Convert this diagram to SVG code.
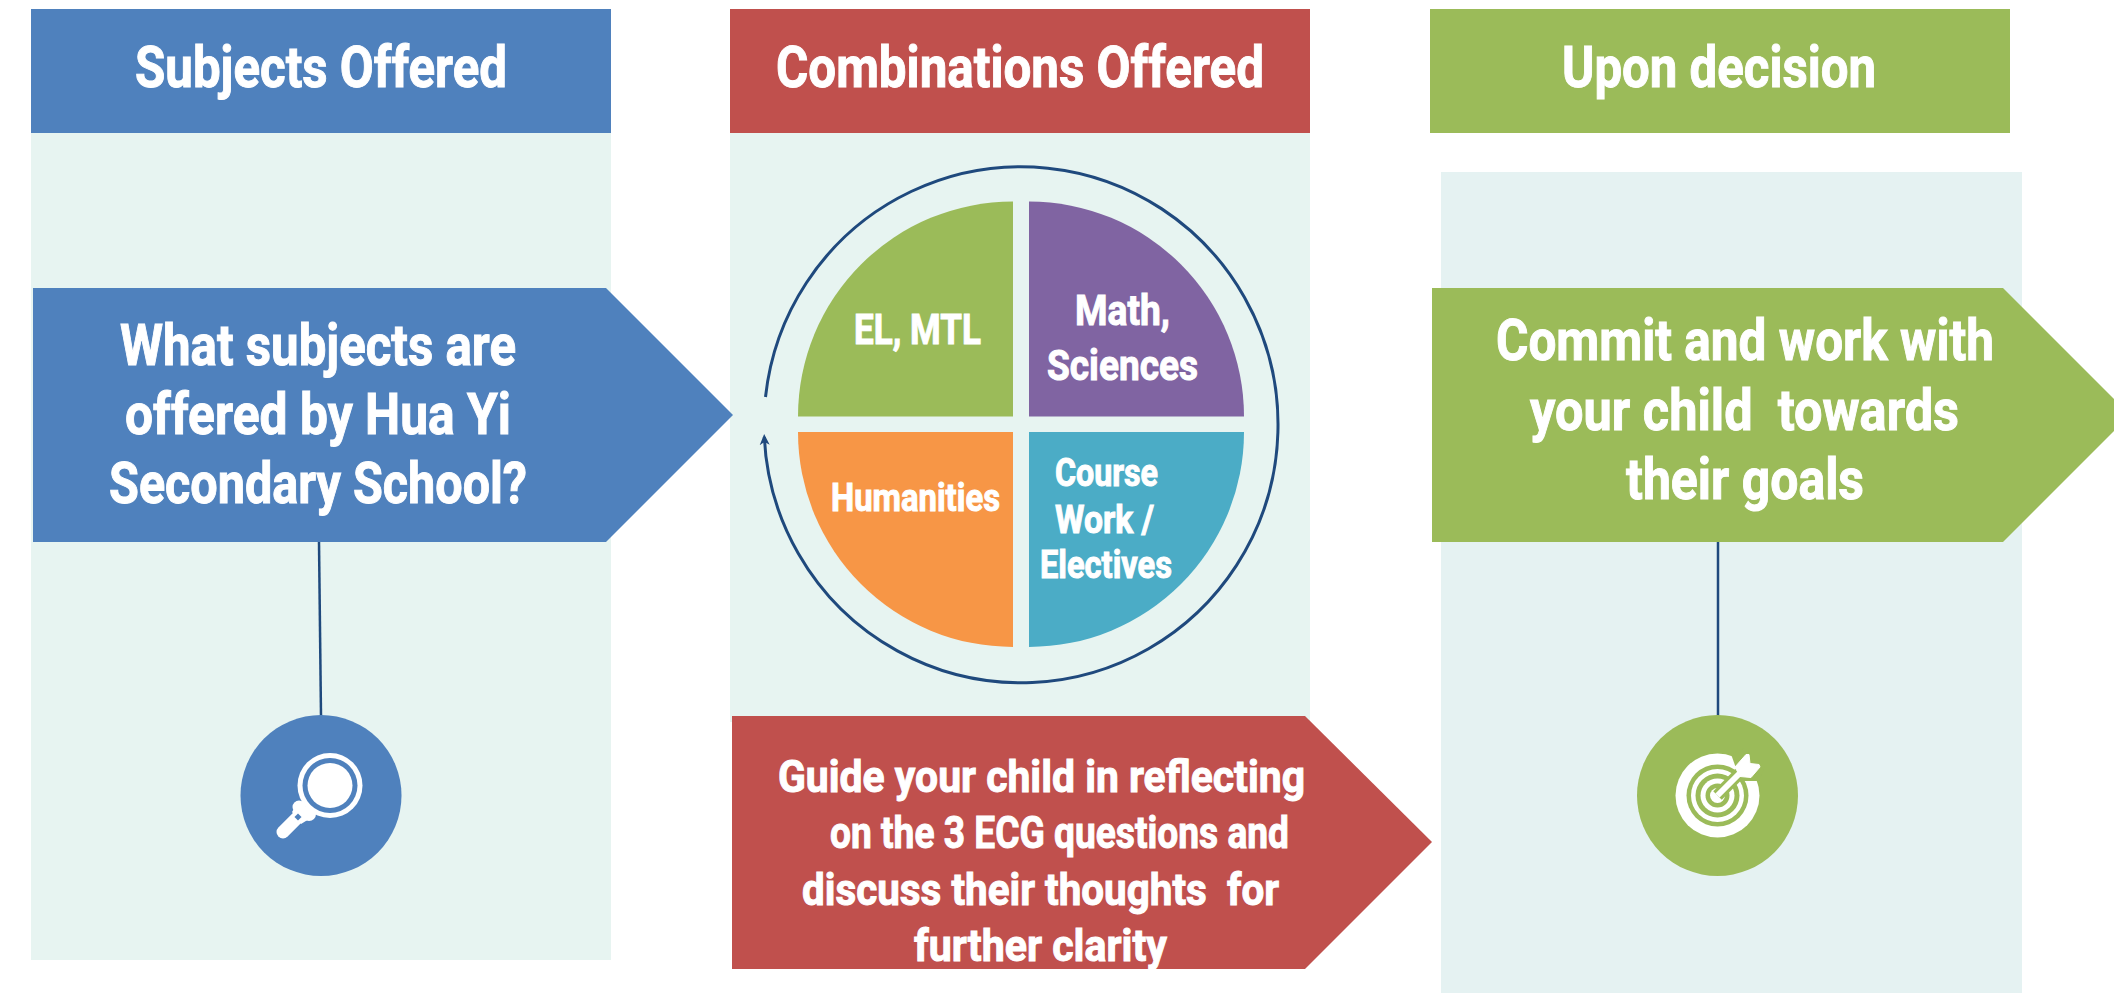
<svg xmlns="http://www.w3.org/2000/svg" width="2114" height="993" viewBox="0 0 2114 993">
<style>
text{font-family:"Liberation Sans Narrow","Roboto","Liberation Sans",sans-serif;font-weight:700;fill:#fff;stroke:#fff;stroke-width:1;white-space:pre}
.h{font-size:58px}.b{font-size:58px}.m{font-size:45px}.p{font-size:42px}.q{font-size:38px}
.panel{fill:#E7F4F1}.blue{fill:#4F81BD}.red{fill:#C0504D}.green{fill:#9BBB59}
.line{fill:none;stroke:#1F497D;stroke-width:2.5}
</style>
<defs><marker id="ah" markerUnits="userSpaceOnUse" markerWidth="12" markerHeight="12" refX="8" refY="6" orient="auto"><path d="M0,1 L11,6 L0,11 L3,6Z" fill="#1F497D"/></marker></defs>
<rect width="2114" height="993" fill="#fff"/>
<g id="panels">
<rect class="panel" x="31" y="133" width="580" height="827"/>
<rect class="panel" x="730" y="133" width="580" height="589"/>
<rect x="1441" y="172" width="581" height="821" fill="#E5F2F2"/>
</g>
<g id="connectors">
<path class="line" d="M319,542 L321,716"/>
<path class="line" d="M1718,542 V716"/>
<path class="line" style="stroke-width:3" d="M765.5,397 A257,258 0 1 1 764.3,437" marker-end="url(#ah)"/>
</g>
<g id="header-subjects"><rect class="blue" x="31" y="9" width="580" height="124"/><text class="h" x="135" y="87" textLength="372" lengthAdjust="spacingAndGlyphs">Subjects Offered</text></g>
<g id="header-combinations"><rect class="red" x="730" y="9" width="580" height="124"/><text class="h" x="776" y="87" textLength="488" lengthAdjust="spacingAndGlyphs">Combinations Offered</text></g>
<g id="header-decision"><rect class="green" x="1430" y="9" width="580" height="124"/><text class="h" x="1562" y="87" textLength="314" lengthAdjust="spacingAndGlyphs">Upon decision</text></g>
<g id="arrow-subjects"><polygon class="blue" points="33,288 606,288 733,415 606,542 33,542"/>
<text class="b" x="120" y="365" textLength="396" lengthAdjust="spacingAndGlyphs">What subjects are</text>
<text class="b" x="125" y="434" textLength="386" lengthAdjust="spacingAndGlyphs">offered by Hua Yi</text>
<text class="b" x="109" y="503" textLength="418" lengthAdjust="spacingAndGlyphs">Secondary School?</text></g>
<g id="arrow-guide"><polygon class="red" points="732,716 1305,716 1432,842 1305,969 732,969"/>
<text class="m" x="778" y="792" textLength="527" lengthAdjust="spacingAndGlyphs">Guide your child in reflecting</text>
<text class="m" x="830" y="848" textLength="459" lengthAdjust="spacingAndGlyphs">on the 3 ECG questions and</text>
<text class="m" x="802" y="905" textLength="477" lengthAdjust="spacingAndGlyphs">discuss their thoughts  for</text>
<text class="m" x="914" y="961" textLength="253" lengthAdjust="spacingAndGlyphs">further clarity</text></g>
<g id="arrow-commit"><polygon class="green" points="1432,288 2003,288 2130,415 2003,542 1432,542"/>
<text class="b" x="1496" y="360" textLength="498" lengthAdjust="spacingAndGlyphs">Commit and work with</text>
<text class="b" x="1530" y="430" textLength="429" lengthAdjust="spacingAndGlyphs">your child  towards</text>
<text class="b" x="1626" y="499" textLength="238" lengthAdjust="spacingAndGlyphs">their goals</text></g>
<g id="q-el"><path class="green" d="M1013,416.5 H798 A215,215 0 0 1 1013,201.5Z"/><text class="p" x="854" y="344" textLength="127" lengthAdjust="spacingAndGlyphs">EL, MTL</text></g>
<g id="q-math"><path fill="#8064A2" d="M1029,416.5 H1244 A215,215 0 0 0 1029,201.5Z"/>
<text class="p" x="1075" y="325" textLength="95" lengthAdjust="spacingAndGlyphs">Math,</text>
<text class="p" x="1047" y="380" textLength="151" lengthAdjust="spacingAndGlyphs">Sciences</text></g>
<g id="q-hum"><path fill="#F79646" d="M1013,432 H798 A215,215 0 0 0 1013,647Z"/><text class="q" x="831" y="511" textLength="169" lengthAdjust="spacingAndGlyphs">Humanities</text></g>
<g id="q-course"><path fill="#4BACC6" d="M1029,432 H1244 A215,215 0 0 1 1029,647Z"/>
<text class="q" x="1055" y="486" textLength="103" lengthAdjust="spacingAndGlyphs">Course</text>
<text class="q" x="1055" y="533" textLength="99" lengthAdjust="spacingAndGlyphs">Work /</text>
<text class="q" x="1040" y="578" textLength="132" lengthAdjust="spacingAndGlyphs">Electives</text></g>
<g id="icon-search"><circle class="blue" cx="321" cy="795.5" r="80.5"/>
<circle cx="330" cy="785.5" r="32.5" fill="#fff"/><circle class="blue" cx="330" cy="785.5" r="27.5"/><circle cx="330" cy="785.5" r="22.5" fill="#fff"/>
<path d="M283,832 L303,812" stroke="#fff" stroke-width="13" stroke-linecap="round"/>
<circle cx="299" cy="807" r="6.5" fill="#fff"/><circle cx="309" cy="814" r="7" fill="#fff"/><polygon points="298,802 314,816 301,824 292,812" fill="#fff"/>
<rect class="blue" x="295.5" y="814.5" width="5" height="5" transform="rotate(45 298 817)"/></g>
<g id="icon-target"><circle class="green" cx="1717.5" cy="795.5" r="80.5"/>
<circle cx="1717.5" cy="795.5" r="42" fill="#fff"/><circle class="green" cx="1717.5" cy="795.5" r="31"/><circle cx="1717.5" cy="795.5" r="26.5" fill="#fff"/><circle class="green" cx="1717.5" cy="795.5" r="22"/><circle cx="1717.5" cy="795.5" r="17" fill="#fff"/><circle class="green" cx="1717.5" cy="795.5" r="12"/><circle cx="1717.5" cy="795.5" r="7.5" fill="#fff"/>
<path d="M1717.5,795.5 L1745,768" stroke="#9BBB59" stroke-width="12"/>
<polygon class="green" points="1731,754 1745,748 1765,766 1759,781 1744,781 1737,771"/>
<path d="M1717.5,795.5 L1745,768" stroke="#fff" stroke-width="6"/>
<polygon points="1735,767 1746,754.5 1749,754.5 1750,763.5 1759,764.5 1760,767 1751,777.5 1740,776.5" fill="#fff" stroke="#fff" stroke-width="1" stroke-linejoin="round"/></g>
</svg>
